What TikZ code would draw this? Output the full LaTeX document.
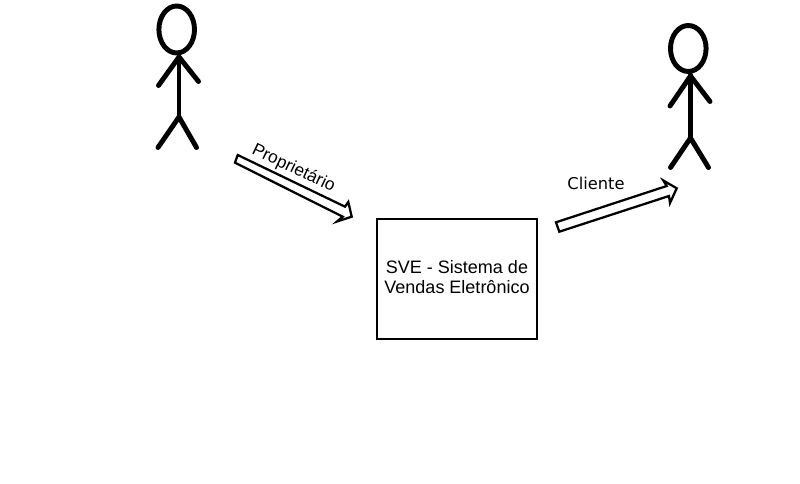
\documentclass[tikz,border=0pt]{standalone}
\usepackage{fontspec}
\setmainfont{Liberation Sans}
\newfontfamily\verd{DejaVu Sans}
\tikzset{
  limb/.style={line width=3.7pt,line cap=round,line join=round,black},
  headring/.style={line width=3.7pt,black},
  hollowarrow/.style={draw=black,line width=1.7pt,fill=white,line join=miter},
  sysbox/.style={draw=black,line width=1.6pt,minimum width=120pt,minimum height=90pt,inner sep=0pt},
  systext/.style={inner sep=0pt,align=center,font=\fontsize{13.5pt}{15pt}\selectfont}
}
\begin{document}
\begin{tikzpicture}[x=0.75pt,y=-0.75pt]
\useasboundingbox (0,0) rectangle (800,484);
\fill[white] (0,0) rectangle (800,484);
% left figure
\draw[headring] (176.7,29.5) ellipse [x radius=17.8,y radius=23.5];
\draw[limb] (179,56) -- (179,117);
\draw[limb] (158.5,85.5) -- (179,57) -- (198.5,81.5);
\draw[limb] (158,147.5) -- (179,117) -- (196.5,147.5);
% right figure
\draw[headring] (688.3,48.5) ellipse [x radius=17.8,y radius=23];
\draw[limb] (690.5,75) -- (690.5,138);
\draw[limb] (670,106) -- (690.5,76) -- (710,101.5);
\draw[limb] (670.5,167.5) -- (690.5,138) -- (708.5,167.5);
% system
\node[sysbox] (sve) at (457,279) {};
\node[systext] (svetext) at (457,277) {SVE - Sistema de\\Vendas Eletrônico};
% arrows
\draw[hollowarrow] (237.7,155) -- (345,206.7) -- (348.3,202) -- (351.7,216.7) -- (337,221.5) -- (342.7,216.7) -- (235,162.7) -- cycle;
\draw[hollowarrow] (556,222.3) -- (666.7,186) -- (663.3,180.5) -- (676.7,188.3) -- (670,203) -- (669,196) -- (559.3,231.7) -- cycle;
% labels
\node[rotate=-25.3,anchor=base,font=\fontsize{13pt}{15pt}\selectfont,inner sep=0pt] (prop) at (291.5,172.7) {Proprietário};
\node[font=\verd\fontsize{12.2pt}{14pt}\selectfont,inner sep=0pt] (cli) at (596,183) {Cliente};
\end{tikzpicture}
\end{document}
